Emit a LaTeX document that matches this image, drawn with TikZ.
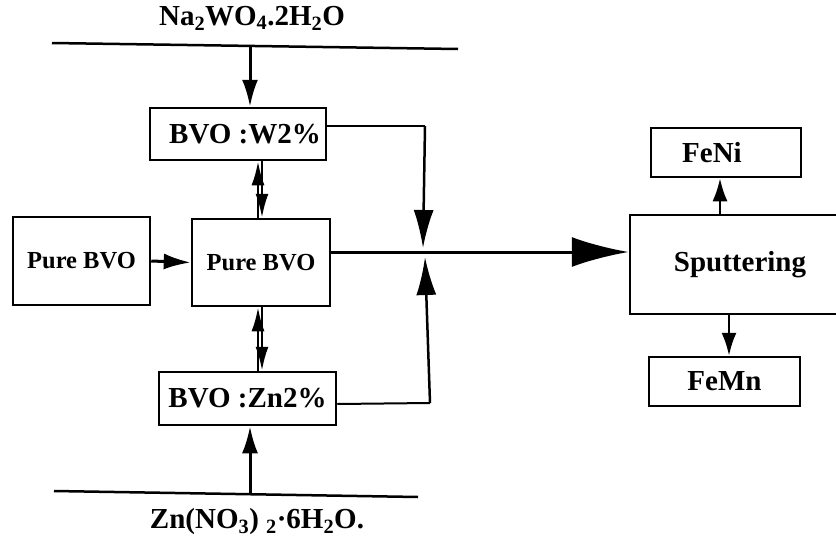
\documentclass[tikz,border=0pt]{standalone}
\usepackage{fontspec}
\setmainfont{Liberation Serif}
\usetikzlibrary{arrows.meta}
\tikzset{
  lbl/.style={font=\fontsize{29}{31}\selectfont\bfseries},
  box/.style={draw,line width=2.5pt,lbl,inner sep=0pt,align=center},
  small/.style={font=\fontsize{24.5}{26}\selectfont\bfseries},
  rail/.style={line width=2.5pt},
  wire/.style={line width=2pt},
  feed/.style={line width=3pt,-{Latex[length=27pt,width=16pt]}},
  merge/.style={line width=2.5pt,-{Latex[length=38pt,width=20pt]}},
  mainflow/.style={line width=3pt,-{Latex[length=57pt,width=30pt]}},
  dope/.style={line width=2.5pt,-{Latex[length=24pt,width=13pt]}},
  yield/.style={line width=2.5pt,-{Latex[length=23pt,width=15pt]}},
}
\begin{document}
\begin{tikzpicture}[x=1pt,y=-1pt]
\useasboundingbox (0,0) rectangle (836,546);
\clip (0,0) rectangle (836,546);

% ============ PRECURSORS ============
\node[lbl] (naw) at (252,18) {Na\textsubscript{2}WO\textsubscript{4}.2H\textsubscript{2}O};
\node[lbl] (znn) at (257,522) {Zn(NO\textsubscript{3})\ \textsubscript{2}·6H\textsubscript{2}O.};
\coordinate (topL) at (52,43);
\coordinate (topR) at (458,49);
\coordinate (topin) at (250,45.5);
\coordinate (botL) at (54,491);
\coordinate (botR) at (418,497);
\coordinate (botin) at (250,494);

% ============ BVO BOXES ============
\node[box,minimum width=176pt,minimum height=52pt] (w2) at (238,134) {\hspace*{14pt}BVO :W2\%};
\node[box,small,minimum width=137pt,minimum height=88pt] (pure0) at (81.5,261) {Pure BVO};
\node[box,small,minimum width=138pt,minimum height=87pt] (pure) at (261,262.5) {Pure BVO};
\node[box,minimum width=177pt,minimum height=53pt] (zn2) at (247.5,398.5) {BVO :Zn2\%};

% ============ SPUTTERING ============
\node[box,minimum width=220pt,minimum height=99pt] (sput) at (740,264.5) {Sputtering};
\node[box,minimum width=150pt,minimum height=49pt] (feni) at (726,152.5) {FeNi\hspace*{28pt}};
\node[box,minimum width=151pt,minimum height=49pt] (femn) at (724.5,381.5) {FeMn};

% merge points
\coordinate (wturn) at (425,126);
\coordinate (wtip) at (423,248);
\coordinate (zturn) at (430,403);
\coordinate (ztip) at (425,257);

% ---------- edges: precursors ----------
\draw[rail] (topL) -- (topR);
\draw[rail] (botL) -- (botR);
\draw[feed] (topin) -- (topin |- w2.north);
\draw[feed] (botin) -- (botin |- zn2.south);
\draw[feed] (pure0.east) -- (pure.west);

% ---------- edges: doping swaps ----------
\draw[dope] ([xshift=-3pt]pure.north) -- ([xshift=-3pt]w2.south -| pure.north);
\draw[dope] ([xshift=1pt]w2.south -| pure.north) -- ([xshift=1pt]pure.north);
\draw[dope] ([xshift=-3pt]zn2.north -| pure.south) -- ([xshift=-3pt]pure.south);
\draw[dope] ([xshift=1pt]pure.south) -- ([xshift=1pt]zn2.north -| pure.south);

% ---------- edges: merge into sputtering ----------
\draw[wire] (w2.east |- wturn) -- (wturn);
\draw[merge] (wturn) -- (wtip);
\draw[wire] (zn2.east |- 0,404) -- (zturn);
\draw[merge] (zturn) -- (ztip);
\draw[mainflow] (pure.east |- 0,252) -- (sput.west |- 0,252);

% ---------- outputs ----------
\draw[yield] ([xshift=-6pt]sput.north -| feni.south) -- ([xshift=-6pt]feni.south);
\draw[yield] ([xshift=4.5pt]sput.south -| femn.north) -- ([xshift=4.5pt]femn.north);

\end{tikzpicture}
\end{document}
